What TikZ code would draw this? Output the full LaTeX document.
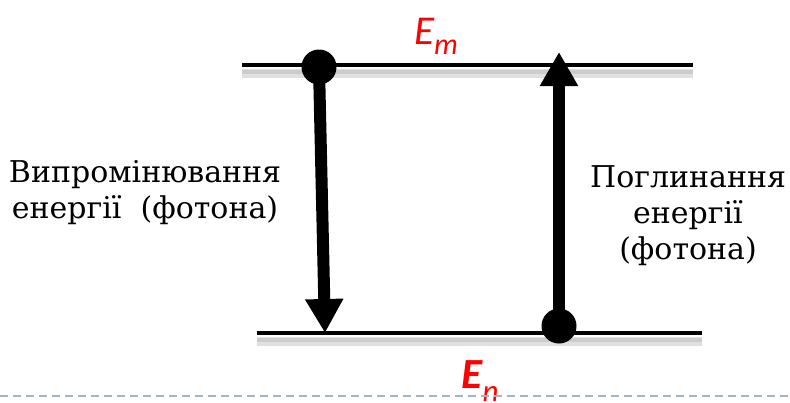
\documentclass[tikz,border=0pt]{standalone}
\usepackage{fontspec}
\setmainfont{DejaVu Serif}
\newfontfamily\labelfont{Carlito}
\usepackage{tikz}
\usetikzlibrary{arrows.meta,positioning,calc}
\definecolor{levelRed}{HTML}{FF0000}
\definecolor{rulerBlue}{HTML}{A2B5C8}

\begin{document}
\begin{tikzpicture}[x=1pt, y=-1pt,
  level/.style={line width=4.5pt, black},
  shade/.style={line width=9pt, black!12},
  shadecore/.style={line width=4pt, black!20},
  dot/.style={circle, fill=black, inner sep=0pt, minimum size=35pt},
  jump/.style={line width=12pt, -{Triangle[width=36pt,length=34pt]}},
  txt/.style={align=center, font=\fontsize{30}{36}\selectfont},
  elab/.style={text=levelRed, font=\labelfont\fontsize{41}{41}\selectfont\itshape}]
\useasboundingbox (0,0) rectangle (790,402);
% energy levels
\coordinate (mw) at (242,65);
\coordinate (me) at (693,65);
\coordinate (nw) at (257,333);
\coordinate (ne) at (702,333);
\foreach \a/\b in {mw/me, nw/ne} {
  \draw[shade] ($(\a)+(0,8)$) -- ($(\b)+(0,8)$);
  \draw[shadecore] ($(\a)+(0,7)$) -- ($(\b)+(0,7)$);
}
\draw[level] (mw) -- (me);
\draw[level] (nw) -- (ne);
% transitions
\node[dot] (mdot) at (319,67) {};
\coordinate (ntip) at (325,333);
\node[dot] (ndot) at (559,326) {};
\coordinate (mtip) at (559,52);
\draw[jump] (mdot.center) -- (ntip);
\draw[jump] (ndot.center) -- (mtip);
% labels
\node[elab] (em) at (436,36) {E\raisebox{-0.25em}{\fontsize{30}{30}\selectfont m}};
\node[elab, font=\labelfont\fontsize{43}{43}\selectfont\bfseries\itshape] (en) at (480,381) {E\raisebox{-0.3em}{\mdseries\fontsize{31}{31}\selectfont n}};
\node[txt] (emit) at (145,193) {Випромінювання\\енергії\ \ (фотона)};
\node[txt] (absorb) at (688,216) {Поглинання\\енергії\\(фотона)};
% bottom ruler
\draw[rulerBlue, line width=2.2pt, dash pattern=on 8pt off 5pt] (0,396) -- (790,396);
\end{tikzpicture}
\end{document}
